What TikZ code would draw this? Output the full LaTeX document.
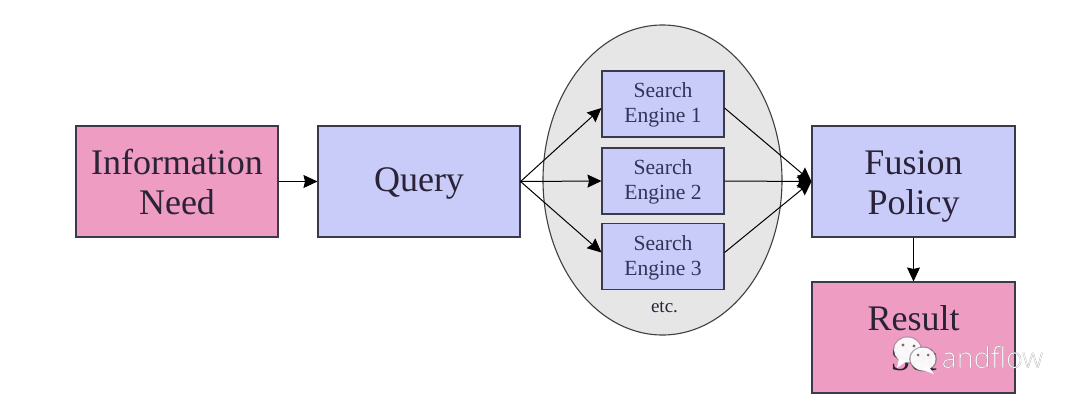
\documentclass[tikz,border=0pt]{standalone}
\usepackage{fontspec}
\setmainfont{Liberation Serif}
\newfontfamily\wmfont[FakeBold=0.25]{Open Sans Light}
\usetikzlibrary{arrows.meta,shapes.geometric}
\definecolor{lav}{HTML}{C9CCF9}
\definecolor{pinkbox}{HTML}{EF9CC3}
\definecolor{ellfill}{HTML}{E6E6E6}
\definecolor{edgec}{HTML}{3A3A4A}
\definecolor{inkc}{HTML}{2A2236}
\definecolor{smallink}{HTML}{33335A}
\tikzset{
  x=.5pt,y=-.5pt,
  bigbox/.style={draw=edgec,line width=.55pt,minimum width=101pt,minimum height=55.5pt,inner sep=0pt},
  bigtext/.style={inner sep=0pt,align=center,text=inkc,font=\fontsize{18}{20}\selectfont},
  seng/.style={draw=edgec,fill=lav,line width=.55pt,minimum width=61pt,minimum height=33pt,inner sep=0pt},
  setext/.style={inner sep=0pt,align=center,text=smallink,font=\fontsize{10.8}{12.5}\selectfont},
  conn/.style={draw=black,line width=.5pt,-{Stealth[length=7pt,width=6.5pt,inset=.8pt]}},
  wmbubble/.style={fill=white,draw=none,opacity=.95}
}
\begin{document}
\begin{tikzpicture}
\useasboundingbox[fill=white] (0,0) rectangle (1080,402);
\node[draw=black!75,fill=ellfill,line width=.55pt,ellipse,minimum width=119.5pt,minimum height=155pt,inner sep=0pt] (cloud) at (662.5,180) {};
\node[bigbox,fill=pinkbox] (need) at (177,181.5) {};
\node[bigbox,fill=lav] (query) at (419,181.5) {};
\node[bigbox,fill=lav,minimum width=101.5pt] (fusion) at (913.5,181.5) {};
\node[bigbox,fill=pinkbox,minimum width=101.5pt] (result) at (913.5,337.5) {};
\node[seng] (se1) at (663,104) {};
\node[seng] (se2) at (663,181) {};
\node[seng] (se3) at (663,256.5) {};
\node[bigtext] (needt) at (need.center) {Information\\Need};
\node[bigtext] (queryt) at ([yshift=-1pt]query.center) {Query};
\node[bigtext] (fusiont) at ([yshift=-2.7pt]fusion.center) {Fusion\\Policy};
\node[bigtext] (resultt) at ([yshift=-.5pt]result.center) {Result\\Set};
\node[setext] (se1t) at ([yshift=-.5pt]se1.center) {Search\\Engine 1};
\node[setext] (se2t) at ([yshift=-.5pt]se2.center) {Search\\Engine 2};
\node[setext] (se3t) at ([yshift=-.5pt]se3.center) {Search\\Engine 3};
\node[inner sep=0pt,text=inkc,font=\fontsize{9.5}{11}\selectfont] (etc) at (664.5,307) {etc.};
\draw[conn] (need.east) -- (query.west);
\draw[conn] (query.east) -- ([yshift=-2pt]se1.west);
\draw[conn] (query.east) -- (se2.west);
\draw[conn] (query.east) -- ([yshift=2pt]se3.west);
\draw[conn] ([yshift=-2pt]se1.east) -- (fusion.west);
\draw[conn] (se2.east) -- (fusion.west);
\draw[conn] ([yshift=2pt]se3.east) -- (fusion.west);
\draw[conn] (fusion.south) -- (result.north);
% watermark
\fill[black!55,opacity=.45] (907.5,350) ellipse [x radius=7.3pt,y radius=6.8pt];
\fill[wmbubble] (907.5,350) ellipse [x radius=6.75pt,y radius=6.25pt];
\fill[wmbubble] (899,358) -- (897,368) -- (907,361) -- cycle;
\fill[pinkbox!60!black] (903,345) circle (.8pt) (914,346) circle (.8pt);
\fill[black!60,opacity=.55] (923,359) ellipse [x radius=7pt,y radius=6.25pt];
\fill[wmbubble] (923,359) ellipse [x radius=6.25pt,y radius=5.75pt];
\fill[wmbubble] (929,367) -- (934,374) -- (920,369) -- cycle;
\fill[pinkbox!60!black] (918,355) circle (.75pt) (928,355) circle (.75pt);
\node[anchor=west,inner sep=0pt,text=white,font=\wmfont\fontsize{14.4}{15}\selectfont] (wm) at (941,357) {\special{pdf:code 0.45 0.45 0.45 RG}andflow};
\end{tikzpicture}
\end{document}
